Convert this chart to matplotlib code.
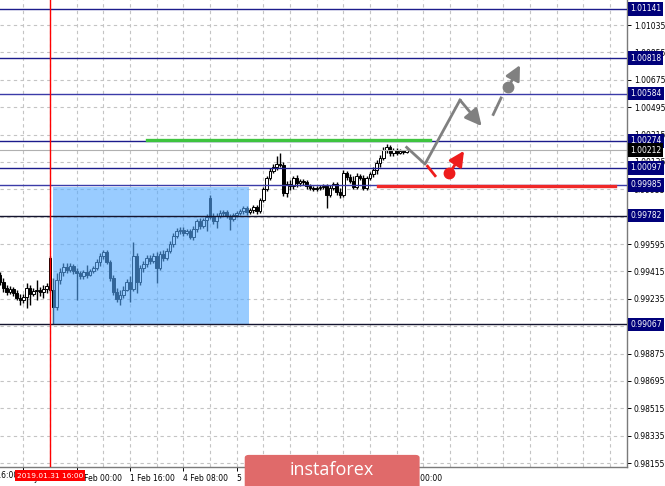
import matplotlib
matplotlib.use('Agg')
import matplotlib.pyplot as plt
from matplotlib.patches import Rectangle, FancyBboxPatch

# H1 bars, index 0 = 2019.01.31 16:00 (weekend bars skipped)
bars = list(range(-15, 108))

opens = [
    0.99391, 0.99344, 0.99305, 0.99279, 0.99298, 0.99272, 0.99239, 0.99226, 0.99246, 0.99305, 0.99266, 0.99285, 0.99292, 0.99279, 0.99298,
    0.99502, 0.99292, 0.99180, 0.99358, 0.99410, 0.99443, 0.99423, 0.99450, 0.99417, 0.99404,
    0.99384, 0.99410, 0.99391, 0.99417, 0.99437, 0.99476, 0.99516, 0.99542, 0.99476, 0.99371,
    0.99279, 0.99233, 0.99259, 0.99292, 0.99344, 0.99298, 0.99516, 0.99344, 0.99437, 0.99463,
    0.99502, 0.99483, 0.99516, 0.99437, 0.99529, 0.99502, 0.99548, 0.99594, 0.99647, 0.99680,
    0.99687, 0.99667, 0.99680, 0.99641, 0.99693, 0.99746, 0.99713, 0.99752, 0.99897, 0.99772,
    0.99746, 0.99779, 0.99798, 0.99805, 0.99779, 0.99759, 0.99785, 0.99798, 0.99812, 0.99831,
    0.99805, 0.99818, 0.99838, 0.99812, 0.99884, 0.99956, 1.00029, 1.00075, 1.00101, 1.00121,
    1.00114, 0.99930, 0.99989, 0.99976, 1.00029, 0.99996, 1.00009, 1.00003, 0.99976, 0.99963,
    0.99956, 0.99963, 0.99970, 0.99976, 0.99917, 0.99963, 0.99989, 0.99937, 0.99917, 1.00062,
    1.00035, 1.00009, 0.99970, 1.00042, 1.00029, 0.99963, 1.00029, 1.00055, 1.00081, 1.00127,
    1.00160, 1.00213, 1.00233, 1.00193, 1.00213, 1.00193, 1.00206, 1.00200,
]
highs = [
    0.99410, 0.99371, 0.99325, 0.99318, 0.99312, 0.99292, 0.99266, 0.99266, 0.99338, 0.99325, 0.99305, 0.99358, 0.99312, 0.99325, 0.99338,
    0.99516, 0.99371, 0.99404, 0.99437, 0.99469, 0.99469, 0.99469, 0.99463, 0.99437, 0.99417,
    0.99423, 0.99456, 0.99430, 0.99450, 0.99496, 0.99535, 0.99555, 0.99555, 0.99489, 0.99391,
    0.99305, 0.99292, 0.99318, 0.99364, 0.99384, 0.99608, 0.99535, 0.99456, 0.99483, 0.99522,
    0.99522, 0.99535, 0.99542, 0.99548, 0.99555, 0.99568, 0.99614, 0.99667, 0.99700, 0.99706,
    0.99706, 0.99693, 0.99693, 0.99713, 0.99759, 0.99766, 0.99766, 0.99792, 0.99917, 0.99798,
    0.99798, 0.99818, 0.99818, 0.99818, 0.99792, 0.99798, 0.99812, 0.99825, 0.99845, 0.99845,
    0.99831, 0.99851, 0.99851, 0.99897, 0.99970, 1.00042, 1.00095, 1.00121, 1.00174, 1.00193,
    1.00134, 1.00009, 1.00016, 1.00042, 1.00049, 1.00022, 1.00022, 1.00016, 0.99989, 0.99976,
    0.99976, 0.99983, 0.99989, 0.99989, 0.99983, 1.00003, 1.00003, 0.99963, 1.00081, 1.00075,
    1.00055, 1.00042, 1.00062, 1.00055, 1.00049, 1.00042, 1.00068, 1.00101, 1.00147, 1.00180,
    1.00233, 1.00252, 1.00246, 1.00226, 1.00226, 1.00220, 1.00213, 1.00220,
]
lows = [
    0.99325, 0.99279, 0.99259, 0.99266, 0.99252, 0.99226, 0.99193, 0.99206, 0.99174, 0.99193, 0.99252, 0.99226, 0.99252, 0.99239, 0.99272,
    0.99279, 0.99067, 0.99160, 0.99331, 0.99384, 0.99404, 0.99410, 0.99397, 0.99226, 0.99364,
    0.99364, 0.99371, 0.99384, 0.99404, 0.99423, 0.99450, 0.99496, 0.99463, 0.99351, 0.99259,
    0.99213, 0.99193, 0.99239, 0.99285, 0.99213, 0.99285, 0.99272, 0.99325, 0.99410, 0.99443,
    0.99463, 0.99469, 0.99338, 0.99423, 0.99483, 0.99489, 0.99535, 0.99575, 0.99634, 0.99660,
    0.99647, 0.99654, 0.99627, 0.99621, 0.99673, 0.99693, 0.99700, 0.99680, 0.99759, 0.99726,
    0.99700, 0.99766, 0.99779, 0.99766, 0.99687, 0.99746, 0.99772, 0.99785, 0.99792, 0.99785,
    0.99792, 0.99798, 0.99792, 0.99798, 0.99871, 0.99943, 1.00016, 1.00062, 1.00081, 1.00101,
    0.99910, 0.99904, 0.99950, 0.99956, 0.99970, 0.99976, 0.99983, 0.99956, 0.99950, 0.99943,
    0.99943, 0.99950, 0.99956, 0.99831, 0.99904, 0.99950, 0.99917, 0.99897, 0.99904, 1.00016,
    0.99996, 0.99956, 0.99956, 1.00016, 0.99950, 0.99950, 1.00016, 1.00035, 1.00055, 1.00101,
    1.00147, 1.00193, 1.00174, 1.00174, 1.00180, 1.00187, 1.00187, 1.00193,
]
closes = [
    0.99344, 0.99305, 0.99279, 0.99298, 0.99272, 0.99239, 0.99226, 0.99246, 0.99305, 0.99266, 0.99285, 0.99292, 0.99279, 0.99298, 0.99318,
    0.99292, 0.99180, 0.99358, 0.99410, 0.99443, 0.99423, 0.99450, 0.99417, 0.99404, 0.99384,
    0.99410, 0.99391, 0.99417, 0.99437, 0.99476, 0.99516, 0.99542, 0.99476, 0.99371, 0.99279,
    0.99233, 0.99259, 0.99292, 0.99344, 0.99298, 0.99516, 0.99344, 0.99437, 0.99463, 0.99502,
    0.99483, 0.99516, 0.99437, 0.99529, 0.99502, 0.99548, 0.99594, 0.99647, 0.99680, 0.99687,
    0.99667, 0.99680, 0.99641, 0.99693, 0.99746, 0.99713, 0.99752, 0.99772, 0.99772, 0.99746,
    0.99779, 0.99798, 0.99805, 0.99779, 0.99759, 0.99785, 0.99798, 0.99812, 0.99831, 0.99805,
    0.99818, 0.99838, 0.99812, 0.99884, 0.99956, 1.00029, 1.00075, 1.00101, 1.00121, 1.00114,
    0.99930, 0.99989, 0.99976, 1.00029, 0.99996, 1.00009, 1.00003, 0.99976, 0.99963, 0.99956,
    0.99963, 0.99970, 0.99976, 0.99917, 0.99963, 0.99989, 0.99937, 0.99917, 1.00062, 1.00035,
    1.00009, 0.99970, 1.00042, 1.00029, 0.99963, 1.00029, 1.00055, 1.00081, 1.00127, 1.00160,
    1.00213, 1.00233, 1.00193, 1.00213, 1.00193, 1.00206, 1.00200, 1.00212,
]

# price scale on the right
price_ticks = [0.98155, 0.98335, 0.98515, 0.98695, 0.98875, 0.99055, 0.99235, 0.99415, 0.99595,
               0.99775, 0.99955, 1.00135, 1.00315, 1.00495, 1.00675, 1.00855, 1.01035]
levels = [1.01141, 1.00818, 1.00584, 1.00274, 1.00097, 0.99985, 0.99782, 0.99067]
level_colors = ['#1c1c8c', '#1c1c8c', '#3b3ba8', '#1c1c8c', '#1c1c8c', '#3b3ba8', '#14142e', '#14142e']
current_price = 1.00212

# time scale
time_bars = [-24, -8, 8, 24, 40, 56, 72, 88, 104]
time_labels = ['30 Jan 16:00', '31 Jan 08:00', '1 Feb 00:00', '1 Feb 16:00', '4 Feb 08:00',
               '5 Feb 00:00', '5 Feb 16:00', '6 Feb 08:00', '7 Feb 00:00']
grid_bars = [-16, -8, 0, 8, 16, 24, 32, 40, 48, 56, 64, 72, 80, 88, 96, 104, 112, 120,
             128, 136, 144, 152, 160, 168]
marker_bar = 0
marker_label = '2019.01.31 16:00'

# drawn objects
zone_bars = (1.0, 59.7)
zone_prices = (0.99069, 0.99970)
green_bars = (29.0, 114.0)
green_price = 1.00280
red_bars = (98.5, 169.5)
red_price = 0.99975

gray_path_bars = [107.0, 112.5, 123.0, 129.5]
gray_path_prices = [1.00231, 1.00121, 1.00542, 1.00371]
gray2_bars = [132.8, 135.5, 137.5, 141.0]
gray2_prices = [1.00439, 1.00564, 1.00626, 1.00772]
red_arrow_bars = [113.0, 115.8, 119.8, 124.2]
red_arrow_prices = [1.00114, 1.00037, 1.00060, 1.00208]


def draw_arrow(ax, xs, ys, color, lw):
    # short stroke, a dot, then an arrow pointing out of the dot
    ax.plot(xs[:2], ys[:2], color=color, lw=lw, solid_capstyle='butt', zorder=6)
    ax.plot(xs[2], ys[2], 'o', color=color, ms=7.5, zorder=6)
    ax.annotate('', xy=(xs[3], ys[3]), xytext=(xs[2], ys[2]),
                arrowprops=dict(arrowstyle='-|>,head_length=0.9,head_width=0.45',
                                color=color, lw=lw, shrinkA=0, shrinkB=0),
                zorder=6)


def main():
    fig = plt.figure(figsize=(6.65, 4.86), dpi=100)
    ax = fig.add_axes([0, 19 / 486, 627 / 665, 467 / 486])

    # dashed grid
    for p in price_ticks:
        ax.axhline(p, color='#c4c4c4', lw=0.8, ls=(0, (3, 3)), zorder=0)
    for b in grid_bars:
        ax.axvline(b, color='#c4c4c4', lw=0.8, ls=(0, (3, 3)), zorder=0)

    # candles
    ax.vlines(bars, lows, highs, color='black', lw=1.0, zorder=2)
    for b, o, c in zip(bars, opens, closes):
        bottom = min(o, c)
        height = max(abs(c - o), 0.00002)
        face = 'white' if c >= o else 'black'
        ax.add_patch(Rectangle((b - 0.36, bottom), 0.72, height, facecolor=face,
                               edgecolor='black', lw=0.7, zorder=2.2))

    # blue zone
    ax.add_patch(Rectangle((zone_bars[0], zone_prices[0]), zone_bars[1] - zone_bars[0],
                           zone_prices[1] - zone_prices[0], facecolor='#55aaff',
                           edgecolor='none', alpha=0.6, zorder=2.5))

    # horizontal levels
    for lvl, col in zip(levels, level_colors):
        ax.axhline(lvl, color=col, lw=1.0, zorder=3)
    ax.axhline(current_price, color='#b0b0b0', lw=0.8, zorder=3)

    # red vertical marker
    ax.axvline(marker_bar, color='#ff0000', lw=1.0, zorder=4)

    # green and red horizontal segments
    ax.plot(green_bars, [green_price, green_price], color='#3ec43e', lw=2.4, zorder=5)
    ax.plot(red_bars, [red_price, red_price], color='#f02828', lw=2.4, zorder=5)

    # gray forecast path
    ax.plot(gray_path_bars[:3], gray_path_prices[:3], color='#808080', lw=2.0, zorder=6)
    ax.annotate('', xy=(gray_path_bars[3], gray_path_prices[3]),
                xytext=(gray_path_bars[2], gray_path_prices[2]),
                arrowprops=dict(arrowstyle='-|>,head_length=1.0,head_width=0.5',
                                color='#808080', lw=2.0, shrinkA=0, shrinkB=0),
                zorder=6)
    draw_arrow(ax, gray2_bars, gray2_prices, '#808080', 2.0)
    draw_arrow(ax, red_arrow_bars, red_arrow_prices, '#ee1c1c', 2.0)

    # axes look
    for side in ['left', 'top']:
        ax.spines[side].set_visible(False)
    for side in ['right', 'bottom']:
        ax.spines[side].set_color('#7a7a7a')
        ax.spines[side].set_linewidth(1.0)

    ax.yaxis.tick_right()
    ax.set_yticks(price_ticks)
    ax.set_yticklabels(['%.5f' % p for p in price_ticks])
    ax.tick_params(axis='y', length=3, width=0.7, pad=2, labelsize=5.5, colors='black')

    ax.set_xticks(time_bars)
    ax.set_xticklabels(time_labels)
    ax.tick_params(axis='x', length=3, width=0.7, pad=2, labelsize=5.5, colors='black')
    for lab in ax.get_xticklabels():
        lab.set_ha('left')

    # limits last: set_xticks widens the view otherwise
    ax.set_xlim(-15, 173.1)
    ax.set_ylim(0.98129, 1.01200)

    # the first time label sits left of the view, only its tail shows
    xtr = ax.get_xaxis_transform()
    ax.text(time_bars[0], -0.0185, time_labels[0], transform=xtr, ha='left', va='center',
            fontsize=5.5, clip_on=False)

    # price labels of the levels
    ytr = ax.get_yaxis_transform()
    for lvl in levels:
        ax.text(1.0048, lvl, '%.5f' % lvl, transform=ytr, ha='left', va='center',
                fontsize=5.5, color='white', clip_on=False, zorder=10,
                bbox=dict(boxstyle='square,pad=0.3', fc='#00007a', ec='none'))
    ax.text(1.0048, current_price, '%.5f' % current_price, transform=ytr, ha='left',
            va='center', fontsize=5.5, color='white', clip_on=False, zorder=10,
            bbox=dict(boxstyle='square,pad=0.3', fc='black', ec='none'))

    # red date box under the marker
    ax.text(marker_bar, -0.0185, marker_label, transform=xtr, ha='center', va='center',
            fontsize=5.3, color='white', clip_on=False, zorder=10,
            bbox=dict(boxstyle='square,pad=0.3', fc='#ff0000', ec='none'))

    # watermark banner
    banner = FancyBboxPatch((0.368, -0.05), 0.263, 0.114, transform=fig.transFigure,
                            boxstyle='round,pad=0,rounding_size=0.006',
                            facecolor='#e06a6a', edgecolor='none', zorder=20)
    fig.patches.append(banner)
    fig.text(0.499, 0.033, 'instaforex', ha='center', va='center', color='white',
             fontsize=13, family='Open Sans', zorder=21)

    fig.savefig('out.png', dpi=100)


if __name__ == '__main__':
    main()
